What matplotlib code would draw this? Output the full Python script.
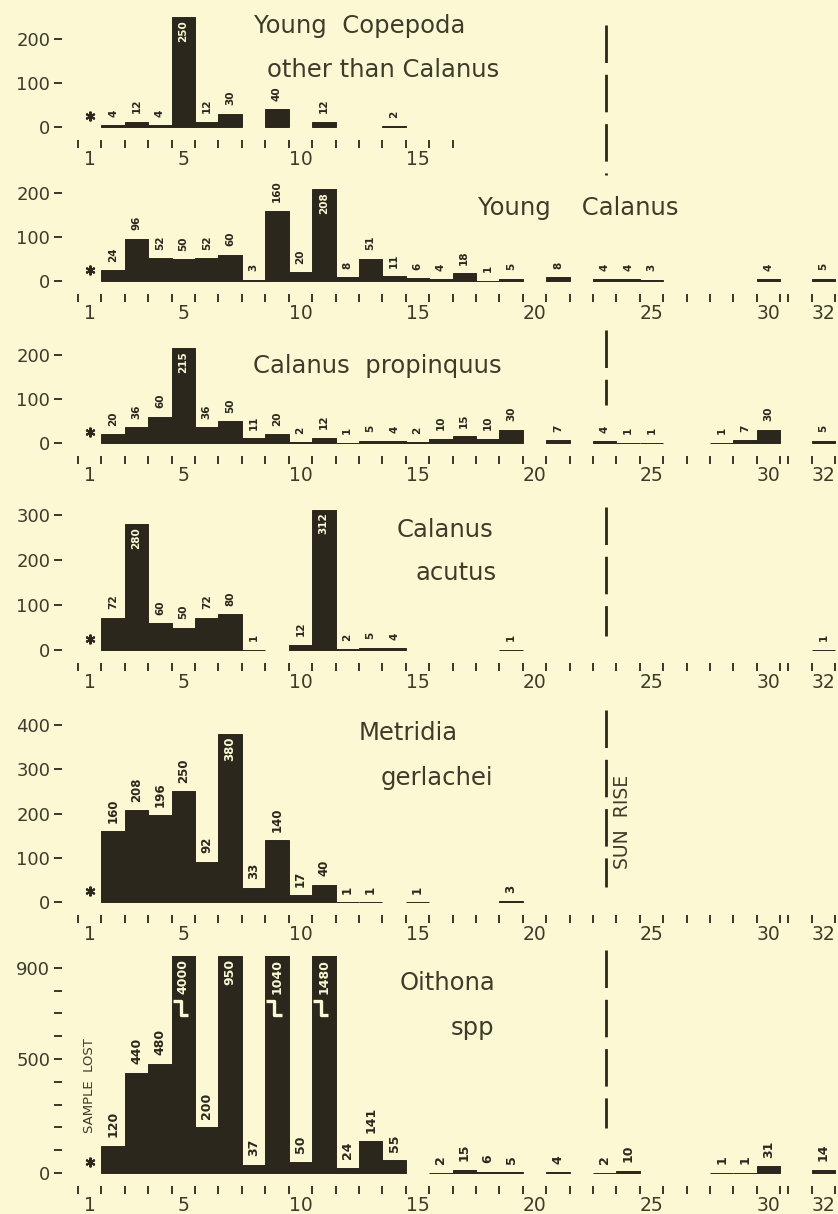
import numpy as np
import matplotlib.pyplot as plt
from matplotlib.lines import Line2D
from matplotlib import transforms

plt.rcParams['font.family'] = ['DejaVu Sans']
plt.rcParams['lines.scale_dashes'] = False

W, H = 838, 1214
PAPER = '#fbf8d3'
INK = '#2b271d'
TEXT = '#403a2b'

# sample numbers along the bottom of every panel (sample 1 = "*")
samples = list(range(1, 33))

# counts per sample, None = no bar drawn
young_copepoda = [None, 4, 12, 4, 250, 12, 30, None, 40, None,
                  12, None, None, 2, None, None, None, None, None, None,
                  None, None, None, None, None, None, None, None, None, None,
                  None, None]
young_calanus = [None, 24, 96, 52, 50, 52, 60, 3, 160, 20,
                 208, 8, 51, 11, 6, 4, 18, 1, 5, None,
                 8, None, 4, 4, 3, None, None, None, None, 4,
                 None, 5]
calanus_propinquus = [None, 20, 36, 60, 215, 36, 50, 11, 20, 2,
                      12, 1, 5, 4, 2, 10, 15, 10, 30, None,
                      7, None, 4, 1, 1, None, None, 1, 7, 30,
                      None, 5]
calanus_acutus = [None, 72, 280, 60, 50, 72, 80, 1, None, 12,
                  312, 2, 5, 4, None, None, None, None, 1, None,
                  None, None, None, None, None, None, None, None, None, None,
                  None, 1]
metridia_gerlachei = [None, 160, 208, 196, 250, 92, 380, 33, 140, 17,
                      40, 1, 1, None, 1, None, None, None, 3, None,
                      None, None, None, None, None, None, None, None, None, None,
                      None, None]
oithona = [None, 120, 440, 480, 4000, 200, 950, 37, 1040, 50,
           1480, 24, 141, 55, None, 2, 15, 6, 5, None,
           4, None, 2, 10, None, None, None, 1, 1, 31,
           None, 14]

series = [young_copepoda, young_calanus, calanus_propinquus,
          calanus_acutus, metridia_gerlachei, oithona]
titles = [["Young  Copepoda", "other than Calanus"], ["Young    Calanus"],
          ["Calanus  propinquus"], ["Calanus", "acutus"],
          ["Metridia", "gerlachei"], ["Oithona", "spp"]]
yticks = [[0, 100, 200], [0, 100, 200], [0, 100, 200], [0, 100, 200, 300],
          [0, 100, 200, 300, 400], [0, 500, 900]]
xticklabels = [1, 5, 10, 15, 20, 25, 30, 32]
sunrise_sample = 23.05

# layout: baseline pixel, pixels per unit, top of y range, label-inside limit
layout = [
    dict(base=127, scale=0.44, top=255, inside=200, fs=7.5, last=16,
         title_xy=[(360, 33), (383, 77)]),
    dict(base=281, scale=0.44, top=212, inside=200, fs=7.5, last=32,
         title_xy=[(578, 215)]),
    dict(base=443, scale=0.44, top=218, inside=200, fs=7.5, last=32,
         title_xy=[(377, 373)]),
    dict(base=650, scale=0.45, top=315, inside=250, fs=7.5, last=32,
         title_xy=[(445, 537), (456, 580)]),
    dict(base=902, scale=0.46, top=385, inside=300, fs=8.5, last=32,
         title_xy=[(408, 740), (437, 785)]),
    dict(base=1173, scale=0.228, top=950, inside=900, fs=9, last=32,
         title_xy=[(447, 990), (472, 1035)]),
]
LEFT = 62          # left edge of the axes, px
X0 = 78            # px of the left edge of sample 1
STEP = 23.41       # px per sample
GAP = 0.34         # small break in the axis after sample 30
DROP = 13          # px between zero line and the tick row
# dashed sun rise line, px ranges from top
sun_segments = [(25, 175), (330, 405), (507, 636), (710, 887), (950, 1128)]


def xpos(k):
    return k + GAP if k > 30 else k


def add_break(ax, x, y):
    """White step mark on a bar that runs off the top."""
    ax.plot([x - 0.45, x - 0.12, x - 0.12, x + 0.2], [y + 25, y + 25, y - 35, y - 35],
            color=PAPER, lw=2.4, solid_capstyle='butt', zorder=4)


fig = plt.figure(figsize=(W / 100, H / 100), dpi=100, facecolor=PAPER)
xlim = (0.5 + (LEFT - X0) / STEP, 0.5 + (W - X0) / STEP)
axes = []
for values, title, yt, lay in zip(series, titles, yticks, layout):
    bottom_px = lay['base'] + DROP
    top_px = lay['base'] - lay['top'] * lay['scale']
    ax = fig.add_axes([LEFT / W, 1 - bottom_px / H, (W - LEFT) / W, (bottom_px - top_px) / H])
    ax.set_facecolor('none')
    ax.set_xlim(xlim)
    ax.set_ylim(-DROP / lay['scale'], lay['top'])
    for s in ax.spines.values():
        s.set_visible(False)

    for k, v in zip(samples, values):
        if v is None:
            continue
        ax.bar(xpos(k), v, width=1.0, color=INK, edgecolor=INK, lw=0.7, zorder=2)
        if v > lay['inside']:
            ax.annotate(str(v), (xpos(k), min(v, lay['top'])), xytext=(0, -2),
                        textcoords='offset points', rotation=90, ha='center', va='top',
                        fontsize=lay['fs'], fontweight='bold', color=PAPER, zorder=5)
        else:
            ax.annotate(str(v), (xpos(k), v), xytext=(0, 6), textcoords='offset points',
                        rotation=90, ha='center', va='bottom', fontsize=lay['fs'],
                        fontweight='bold', color=INK)
        if v > lay['top'] * 1.05:
            add_break(ax, xpos(k), 730)

    # sample 1 marker
    star = transforms.offset_copy(ax.transData, fig, y=8, units='points')
    ax.plot(1, 0, marker=(6, 2, 0), ms=7, mew=1.5, color=INK, transform=star)

    edges = [e + 0.5 for e in range(0, min(lay['last'], 30) + 1)]
    if lay['last'] > 30:
        edges += [30.5 + GAP, 31.5 + GAP, 32.5 + GAP]
    ax.set_xticks(edges)
    ax.set_xticklabels([])
    labs = [t for t in xticklabels if t <= lay['last']]
    ax.set_xticks([xpos(t) for t in labs], minor=True)
    ax.set_xticklabels([str(t) for t in labs], minor=True)
    ax.tick_params(axis='x', which='major', direction='out', length=5.5, width=1.3, color=INK)
    ax.tick_params(axis='x', which='minor', length=0, pad=7, labelsize=13.5, labelcolor=TEXT)

    ax.set_yticks(yt)
    ax.set_yticklabels([str(t) for t in yt])
    if yt[-1] == 900:
        ax.set_yticks([t for t in range(100, 900, 100) if t != 500], minor=True)
    ax.tick_params(axis='y', which='both', direction='out', length=5.5, width=1.3,
                   color=INK, pad=3, labelsize=13, labelcolor=TEXT)

    for line, (tx, ty) in zip(title, lay['title_xy']):
        fig.text(tx / W, 1 - ty / H, line, ha='center', va='baseline', fontsize=17.5, color=TEXT)
    axes.append(ax)

# note for the lost Oithona sample
axes[-1].annotate("SAMPLE  LOST", (1, 0), xytext=(0, 29), textcoords='offset points',
                  rotation=90, ha='center', va='bottom', fontsize=9.5, color=TEXT)

# sun rise line across the panels
trans = transforms.blended_transform_factory(axes[0].transData, fig.transFigure)
for y_top, y_bot in sun_segments:
    fig.add_artist(Line2D([sunrise_sample, sunrise_sample], [1 - y_top / H, 1 - y_bot / H],
                          transform=trans, color=INK, lw=2, dashes=(27, 8.5)))
fig.text(623 / W, 1 - 822 / H, "SUN  RISE", rotation=90, ha='center', va='center',
         fontsize=13.5, color=TEXT)

fig.savefig('out.png', dpi=100, facecolor=PAPER)
